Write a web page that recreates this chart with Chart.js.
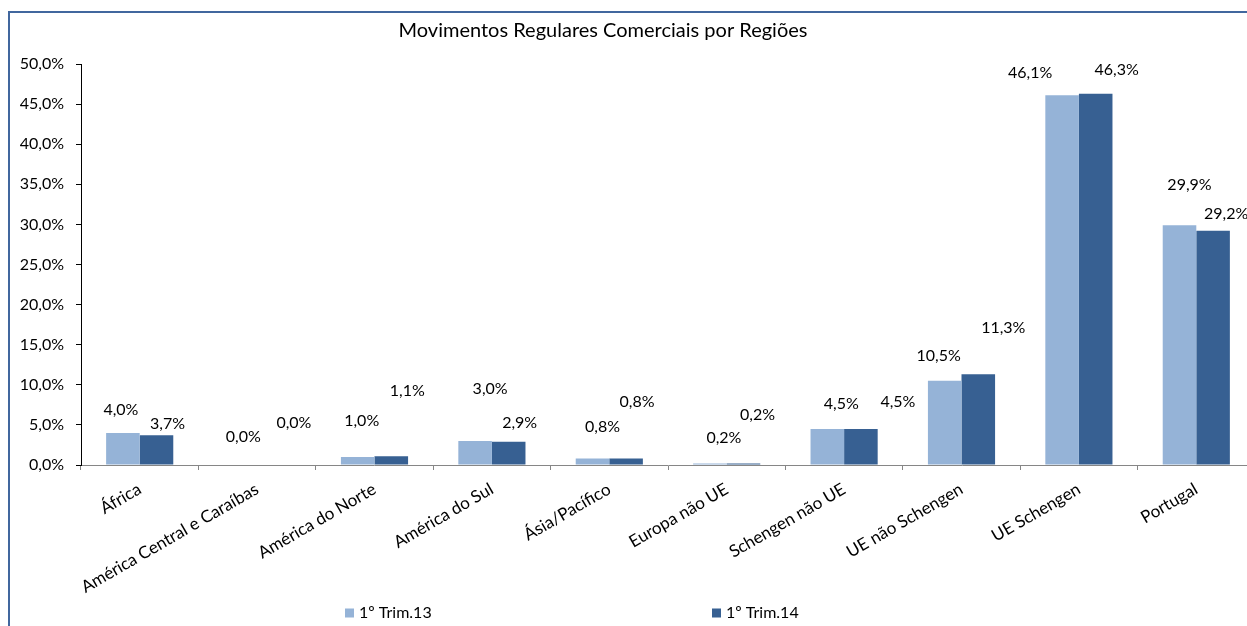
<!DOCTYPE html>
<html>
<head>
<meta charset="utf-8">
<script src="https://cdn.jsdelivr.net/npm/chart.js@4.4.0/dist/chart.umd.min.js"></script>
<style>
  html, body { margin: 0; padding: 0; background: #fff; overflow: hidden; width: 1247px; height: 626px; }
  #frame { position: absolute; left: 8px; top: 11px; width: 1400px; height: 800px; border: 2px solid #41679e; box-sizing: border-box; }
  #c { position: absolute; left: 0; top: 0; }
</style>
</head>
<body>
<div id="frame"></div>
<canvas id="c" width="1270" height="626"></canvas>
<script>
const categories = ["África", "América Central e Caraíbas", "América do Norte", "América do Sul", "Ásia/Pacífico", "Europa não UE", "Schengen não UE", "UE não Schengen", "UE Schengen", "Portugal"];
const seriesNames = ["1º Trim.13", "1º Trim.14"];
const trim13 = [4.0, 0.0, 1.0, 3.0, 0.8, 0.2, 4.5, 10.5, 46.1, 29.9];
const trim14 = [3.7, 0.0, 1.1, 2.9, 0.8, 0.2, 4.5, 11.3, 46.3, 29.2];
const yTicks = [0, 5, 10, 15, 20, 25, 30, 35, 40, 45, 50];
const titleText = "Movimentos Regulares Comerciais por Regiões";

const FONT = "Lato, 'Open Sans', sans-serif";
const fmt = v => v.toFixed(1).replace('.', ',') + '%';

const labelPlugin = {
  id: 'manualLabels',
  afterDatasetsDraw(chart, args, opts) {
    const ctx = chart.ctx;
    ctx.save();
    ctx.font = opts.font;
    ctx.fillStyle = opts.color;
    ctx.textAlign = 'center';
    ctx.textBaseline = 'middle';
    chart.data.datasets.forEach((ds, di) => {
      const meta = chart.getDatasetMeta(di);
      const offs = opts.offsets[di];
      meta.data.forEach((bar, i) => {
        const o = offs[i] || [0, -20];
        ctx.fillText(fmt(ds.data[i]), bar.x + o[0], bar.y + o[1]);
      });
    });
    ctx.restore();
  }
};

const titlePlugin = {
  id: 'manualTitle',
  afterDraw(chart, args, opts) {
    const ctx = chart.ctx;
    ctx.save();
    ctx.font = opts.font;
    ctx.fillStyle = opts.color;
    ctx.textAlign = 'center';
    ctx.textBaseline = 'middle';
    ctx.fillText(opts.text, opts.x, opts.y);
    ctx.restore();
  }
};

const legendPlugin = {
  id: 'manualLegend',
  afterDraw(chart, args, opts) {
    const ctx = chart.ctx;
    ctx.save();
    ctx.font = opts.font;
    ctx.textBaseline = 'middle';
    ctx.textAlign = 'left';
    chart.data.datasets.forEach((ds, di) => {
      const x = opts.xs[di];
      ctx.fillStyle = ds.backgroundColor;
      ctx.fillRect(x, opts.y - opts.box / 2, opts.box, opts.box);
      ctx.fillStyle = opts.color;
      ctx.fillText(ds.label, x + opts.box + 5, opts.y);
    });
    ctx.restore();
  }
};

new Chart(document.getElementById('c'), {
  type: 'bar',
  data: {
    labels: categories,
    datasets: [
      { label: seriesNames[0], data: trim13, backgroundColor: '#95b3d7', borderWidth: 0 },
      { label: seriesNames[1], data: trim14, backgroundColor: '#376092', borderWidth: 0 }
    ]
  },
  options: {
    responsive: false,
    animation: false,
    layout: { padding: { left: 0, right: 15, top: 64, bottom: 0 } },
    datasets: { bar: { categoryPercentage: 0.572, barPercentage: 1.0 } },
    scales: {
      x: {
        grid: { offset: true, drawOnChartArea: false, drawTicks: true, tickLength: 5, color: '#868686' },
        border: { color: '#868686', width: 1 },
        ticks: { color: '#000', font: { family: FONT, size: 17 }, minRotation: 30, maxRotation: 30, padding: 9, autoSkip: false },
        afterFit(scale) { scale.height = 161; }
      },
      y: {
        min: 0, max: 50,
        afterBuildTicks(scale) { scale.ticks = yTicks.map(v => ({ value: v })); },
        grid: { drawOnChartArea: false, drawTicks: true, tickLength: 5, color: '#000' },
        border: { color: '#000', width: 1 },
        ticks: { color: '#000', font: { family: FONT, size: 16 }, padding: 12, callback: v => fmt(v) },
        afterFit(scale) { scale.width = 81; }
      }
    },
    plugins: {
      legend: { display: false },
      title: { display: false },
      tooltip: { enabled: false },
      manualLabels: {
        font: "16px " + FONT,
        color: '#000',
        offsets: [
          [[-2,-23],[3,-28],[4,-36],[15,-52],[10,-32],[14,-26],[14,-25],[-6,-25],[-32,-22],[10,-40]],
          [[11,-11],[20,-42],[16,-65],[11,-19],[11,-57],[14,-49],[37,-27],[25,-47],[21,-24],[13,-17]]
        ]
      },
      manualTitle: { text: titleText, x: 603, y: 31, font: "20px " + FONT, color: '#000' },
      manualLegend: { xs: [345, 712], y: 613, box: 9, font: "16px " + FONT, color: '#000' }
    }
  },
  plugins: [labelPlugin, titlePlugin, legendPlugin]
});
</script>
</body>
</html>
